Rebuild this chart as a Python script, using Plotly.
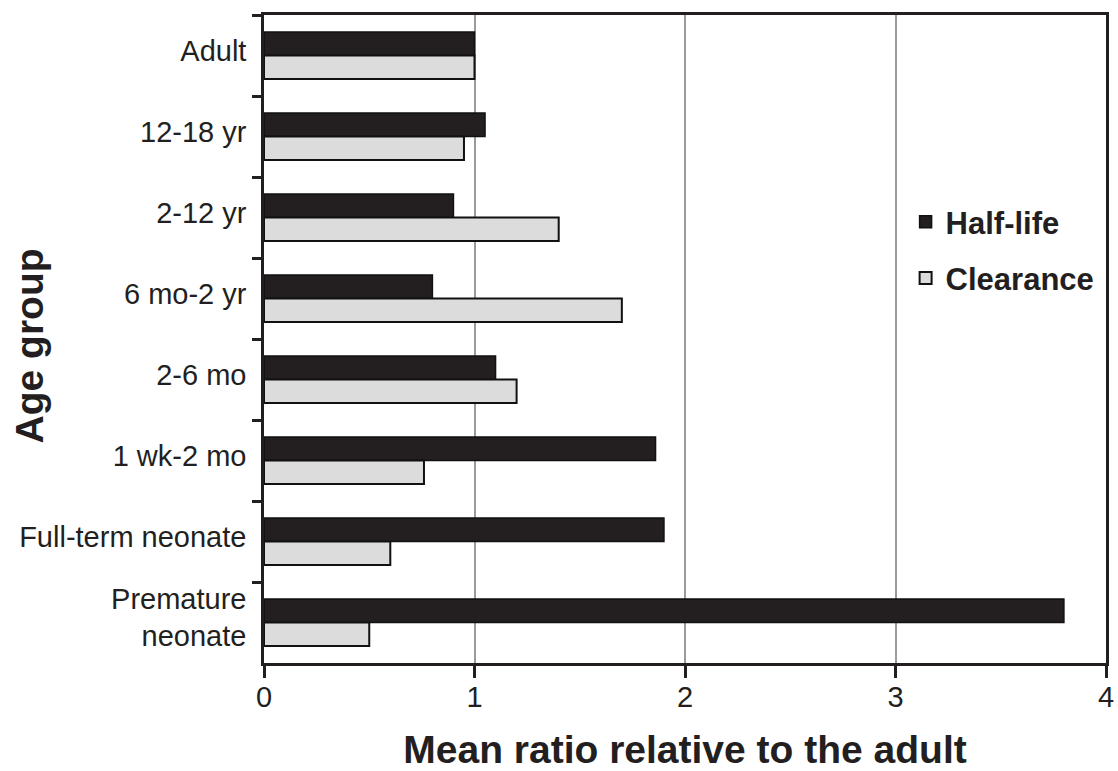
import plotly.graph_objects as go

categories = ["Adult", "12-18 yr", "2-12 yr", "6 mo-2 yr", "2-6 mo", "1 wk-2 mo",
              "Full-term neonate", "Premature<br>neonate"]
half_life = [1.0, 1.05, 0.90, 0.80, 1.10, 1.86, 1.90, 3.80]
clearance = [1.0, 0.95, 1.40, 1.70, 1.20, 0.76, 0.60, 0.50]
x_ticks = [0, 1, 2, 3, 4]

FONT = "Liberation Sans, Arial, Helvetica, sans-serif"
INK = "#231f20"

fig = go.Figure()
fig.add_trace(go.Bar(name="Half-life", y=categories, x=half_life, orientation="h",
                     marker=dict(color=INK, line=dict(color="#111111", width=1.5)),
                     legendgroup="a"))
fig.add_trace(go.Bar(name="Clearance", y=categories, x=clearance, orientation="h",
                     marker=dict(color="#dcdcdd", line=dict(color="#111111", width=2)),
                     legendgroup="b"))

fig.update_layout(
    width=1118, height=771,
    margin=dict(l=264, r=12, t=15, b=108, autoexpand=False),
    paper_bgcolor="white", plot_bgcolor="white",
    barmode="group", bargap=0.42, bargroupgap=0,
    font=dict(family=FONT, color=INK, size=29),
    legend=dict(x=0.762, y=0.722, xanchor="left", yanchor="top",
                font=dict(size=31, family=FONT, color=INK, weight="bold"),
                bgcolor="rgba(0,0,0,0)", traceorder="grouped", tracegroupgap=13,
                itemwidth=30),
    showlegend=True,
)
fig.update_xaxes(
    range=[0, 4], tickvals=x_ticks, ticktext=[str(v) for v in x_ticks],
    showgrid=True, gridcolor="#9a9a9a", gridwidth=2.2, automargin=False,
    zeroline=False, showline=True, linecolor=INK, linewidth=2.5, mirror=True,
    ticks="outside", ticklen=12, tickwidth=2.5, tickcolor=INK,
    tickfont=dict(size=29, color=INK), ticklabelstandoff=-6,
    title=dict(text="<b>Mean ratio relative to the adult</b>", font=dict(size=39, color=INK),
               standoff=27),
)
fig.update_yaxes(
    categoryorder="array", categoryarray=categories, autorange="reversed",
    showgrid=False, zeroline=False, showline=True, linecolor=INK, linewidth=2.5, mirror=True,
    ticks="outside", tickson="boundaries", ticklen=9, tickwidth=2.5, tickcolor=INK,
    tickfont=dict(size=29, color=INK), ticklabelstandoff=9, ticklabelshift=5,
    automargin=False,
)
fig.add_annotation(text="<b>Age group</b>", textangle=-90, xref="paper", yref="paper",
                   x=-0.278, y=0.49, xanchor="center", yanchor="middle", showarrow=False,
                   font=dict(size=39, color=INK, family=FONT))

fig.write_html("out.html", config={"displayModeBar": False},
               post_script="document.body.style.margin='0';")
